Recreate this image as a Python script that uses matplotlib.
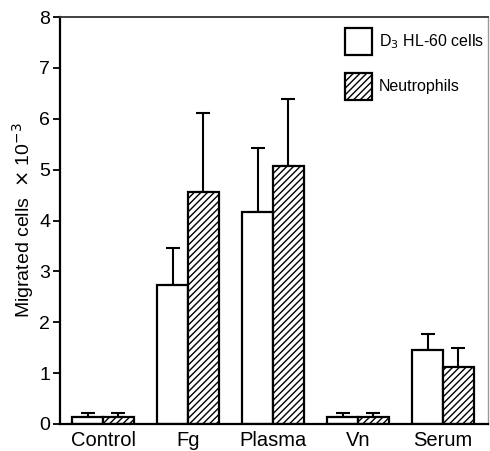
import matplotlib
matplotlib.use("Agg")
import matplotlib.pyplot as plt
import numpy as np

plt.rcParams['font.family'] = ['Liberation Sans', 'DejaVu Sans']
plt.rcParams['hatch.linewidth'] = 1.0

categories = ["Control", "Fg", "Plasma", "Vn", "Serum"]
hl60 = [0.14, 2.73, 4.16, 0.14, 1.45]
hl60_err = [0.07, 0.72, 1.27, 0.07, 0.31]
neut = [0.14, 4.57, 5.07, 0.14, 1.13]
neut_err = [0.07, 1.55, 1.32, 0.07, 0.37]
yticks = [0, 1, 2, 3, 4, 5, 6, 7, 8]

fig = plt.figure(figsize=(4.9, 4.51), dpi=100)
ax = fig.add_axes([60/490, 27/451, 428/490, 407/451])

x = np.arange(len(categories))
w = 0.36
b1 = ax.bar(x - w/2, hl60, width=w, color='white', edgecolor='black', linewidth=1.6,
            label='D$_3$ HL-60 cells', zorder=2)
b2 = ax.bar(x + w/2, neut, width=w, color='white', edgecolor='black', linewidth=1.6,
            hatch='/////', label='Neutrophils', zorder=2)
ax.errorbar(x - w/2, hl60, yerr=[np.zeros(len(x)), hl60_err], fmt='none', ecolor='black',
            elinewidth=1.5, capsize=5.3, capthick=1.5, zorder=1)
ax.errorbar(x + w/2, neut, yerr=[np.zeros(len(x)), neut_err], fmt='none', ecolor='black',
            elinewidth=1.5, capsize=5.3, capthick=1.5, zorder=1)

ax.set_xlim(-0.506, 4.53)
ax.set_ylim(0, 8)
ax.set_yticks(yticks)
ax.set_yticklabels([str(t) for t in yticks], fontsize=14)
ax.set_xticks(x)
ax.set_xticklabels(categories, fontsize=14.5)
ax.tick_params(axis='x', length=0, pad=5)
ax.tick_params(axis='y', length=5, width=1.3, pad=2, direction='out')

for s in ['left', 'bottom']:
    ax.spines[s].set_linewidth(1.6)
    ax.spines[s].set_color('black')
ax.spines['top'].set_linewidth(1.3)
ax.spines['top'].set_color('#333333')
ax.spines['right'].set_linewidth(1.0)
ax.spines['right'].set_color('#999999')

ax.set_ylabel('Migrated cells  $\\times$ 10$^{-3}$', fontsize=14, labelpad=2)

leg = ax.legend(handles=[b1, b2], loc='upper left', bbox_to_anchor=(0.666, 0.973),
                frameon=False, fontsize=11.5, handlelength=1.7, handleheight=2.25,
                labelspacing=1.1, handletextpad=0.4, borderpad=0, borderaxespad=0)

fig.savefig('out.png', dpi=100)
